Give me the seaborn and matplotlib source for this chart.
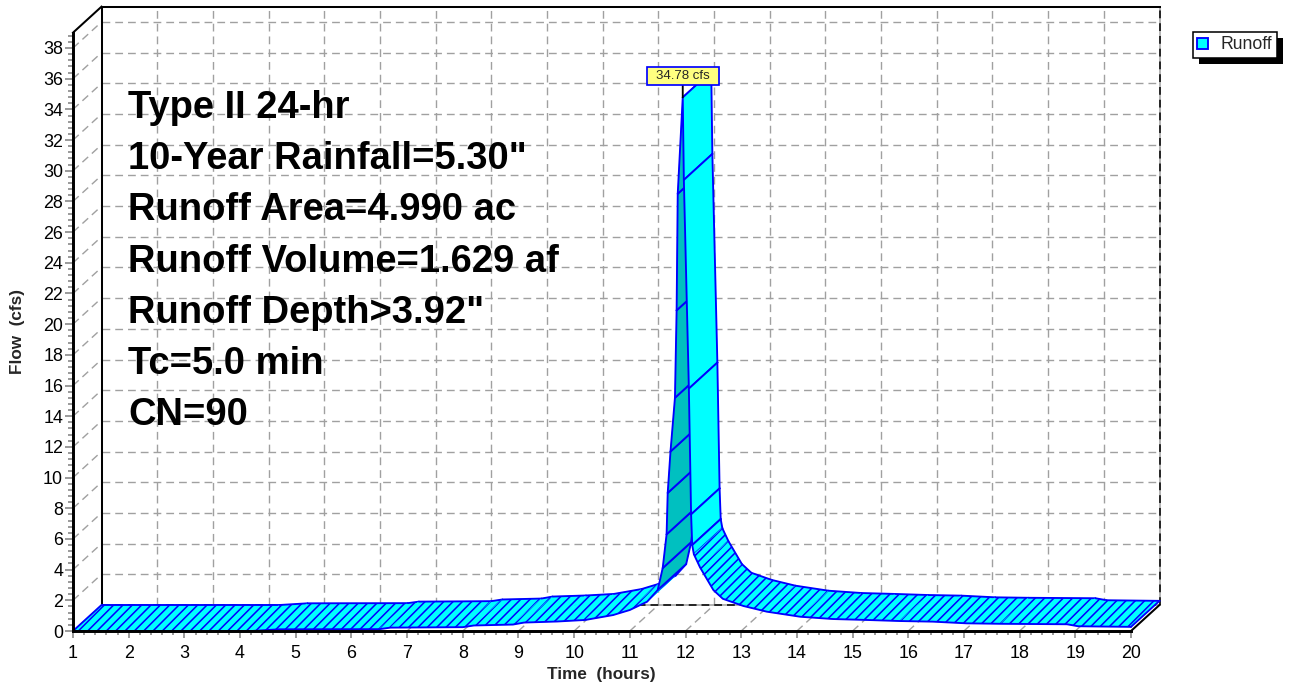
import numpy as np
import matplotlib
matplotlib.use("Agg")
import matplotlib.pyplot as plt
import seaborn as sns
from matplotlib.patches import Patch, Rectangle
from matplotlib.ticker import FixedLocator

# Runoff hydrograph ordinates
hours = [1.00, 4.20, 4.70, 6.50, 6.70, 8.00, 8.20, 8.90, 9.10, 9.70,
         10.20, 10.70, 11.00, 11.31, 11.50, 11.59, 11.66, 11.68, 11.73, 11.81,
         11.84, 11.86, 11.95, 11.97, 12.06, 12.10, 12.12, 12.15, 12.26, 12.50,
         12.67, 13.04, 13.46, 14.06, 14.65, 15.25, 15.85, 16.44, 17.05, 17.65,
         18.85, 19.05, 20.00]
flow = [0.00, 0.00, 0.11, 0.12, 0.22, 0.25, 0.36, 0.42, 0.55, 0.62,
        0.72, 1.04, 1.37, 1.91, 2.67, 4.10, 6.30, 9.00, 11.70, 15.20,
        20.90, 28.50, 34.78, 29.40, 15.80, 7.60, 5.60, 5.00, 4.15, 2.67,
        2.10, 1.63, 1.26, 0.93, 0.78, 0.72, 0.65, 0.61, 0.50, 0.47,
        0.44, 0.31, 0.27]

x_ticks = list(range(1, 21))
y_ticks = list(range(0, 39, 2))
summary_lines = [
    "Type II 24-hr",
    '10-Year Rainfall=5.30"',
    "Runoff Area=4.990 ac",
    "Runoff Volume=1.629 af",
    'Runoff Depth>3.92"',
    "Tc=5.0 min",
    "CN=90",
]
series_name = "Runoff"
x_label = "Time  (hours)"
y_label = "Flow  (cfs)"

W, H, DPI = 1294, 685, 112

sns.set_theme(style="white")
plt.rcParams["font.family"] = ["Liberation Sans", "DejaVu Sans"]
plt.rcParams["lines.scale_dashes"] = False
plt.rcParams["hatch.linewidth"] = 1.0

fig = plt.figure(figsize=(W / DPI, H / DPI), dpi=DPI, facecolor="white")
ax = fig.add_axes([0, 0, 1, 1])
ax.patch.set_visible(False)

# front plane placement (pixels from the left / top of the figure)
X_FIRST, X_LAST = 73, 1131      # hour 1 and hour 20
Y_ZERO, Y_38 = 631, 48          # 0 cfs and 38 cfs
sx = (X_LAST - X_FIRST) / 19
sy = (Y_ZERO - Y_38) / 38
T_MIN, T_MAX, Q_TOP = 1, 20, 39
DT = 28.5 / sx                  # depth of the 3-D box, in hours
DQ = 26.0 / sy                  # depth of the 3-D box, in cfs


def px_t(px):
    return T_MIN + (px - X_FIRST) / sx


def px_q(py):
    return (Y_ZERO - py) / sy


# ---- back wall, side wall and floor grid ----
GRID = "#A0A0A0"
dash = (0, (5.0, 3.2))
for qv in y_ticks[1:]:
    ax.plot([T_MIN + DT, T_MAX + DT], [qv + DQ] * 2, color=GRID, lw=0.9, ls=dash, zorder=1)
    ax.plot([T_MIN, T_MIN + DT], [qv, qv + DQ], color=GRID, lw=0.9, ls=dash, zorder=1)
for tv in x_ticks[1:-1]:
    ax.plot([tv + DT] * 2, [DQ, Q_TOP + DQ], color=GRID, lw=0.9, ls=dash, zorder=1)
    ax.plot([tv, tv + DT], [0, DQ], color=GRID, lw=0.9, ls=dash, zorder=1)
for xs, ys in (([T_MIN + DT, T_MAX + DT], [DQ, DQ]),
               ([T_MAX + DT] * 2, [DQ, Q_TOP + DQ])):
    ax.plot(xs, ys, color=GRID, lw=1.0, zorder=1)
    ax.plot(xs, ys, color="black", lw=1.0, ls=dash, zorder=1.1)

frame = dict(color="black", lw=1.3, zorder=1.2, solid_capstyle="projecting")
ax.plot([T_MIN + DT] * 2, [DQ, Q_TOP + DQ], **frame)
ax.plot([T_MIN + DT, T_MAX + DT], [Q_TOP + DQ] * 2, **frame)
ax.plot([T_MIN, T_MIN + DT], [Q_TOP, Q_TOP + DQ], **frame)
ax.plot([T_MAX, T_MAX + DT], [0, DQ], **frame)

# ---- hydrograph ribbon ----
CYAN, TEAL, BLUE = "#00FFFF", "#00C0C0", "#0000FF"
t = np.asarray(hours)
q = np.asarray(flow)
px_slope = np.diff(q) * sy / (np.diff(t) * sx)
last = len(t) - 2
for i in range(len(t) - 1):
    ts = [t[i], t[i + 1], t[i + 1] + DT, t[i] + DT]
    qs = [q[i], q[i + 1], q[i + 1] + DQ, q[i] + DQ]
    shaded = px_slope[i] > 1.5
    hatched = (not shaded) and abs(px_slope[i]) < 3
    face = TEAL if shaded else CYAN
    z = 3 + i * 0.01
    ax.fill(ts, qs, facecolor=face, edgecolor=face, lw=0.4, zorder=z)
    if hatched:
        ax.fill(ts, qs, facecolor="none", edgecolor=BLUE, lw=0, hatch="////", zorder=z + 0.003)
    ax.plot(ts[2:], qs[2:], color=BLUE, lw=1.2, zorder=z + 0.006)
    if not hatched or i == 0:
        ax.plot([t[i], t[i] + DT], [q[i], q[i] + DQ], color=BLUE, lw=1.2, zorder=z + 0.006)
    if not hatched or i == last:
        ax.plot([t[i + 1], t[i + 1] + DT], [q[i + 1], q[i + 1] + DQ],
                color=BLUE, lw=1.2, zorder=z + 0.006)

sns.lineplot(x=hours, y=flow, ax=ax, color=BLUE, lw=1.2, sort=False,
             estimator=None, legend=False, zorder=5)

# peak label
i_peak = int(np.argmax(q))
peak_hour, peak_flow = hours[i_peak], flow[i_peak]
ax.annotate(f"{peak_flow:.2f} cfs", xy=(peak_hour, peak_flow), xytext=(0, 13.8),
            textcoords="offset points", ha="center", va="center", fontsize=8.5,
            bbox=dict(boxstyle="square,pad=0.7", mutation_aspect=0.33,
                      fc="#FFFF80", ec=BLUE, lw=1.1),
            arrowprops=dict(arrowstyle="-", color="black", lw=1.2, shrinkA=0, shrinkB=0),
            zorder=8)

# storm summary
for k, line in enumerate(summary_lines):
    ax.text(px_t(128), px_q(118 + 51.2 * k), line, fontsize=24.5, fontweight="bold",
            ha="left", va="baseline", color="black", zorder=4)

# ---- front axes ----
ax.set_xlim(px_t(0), px_t(W))
ax.set_ylim(px_q(H), px_q(0))
ax.spines[["top", "right"]].set_visible(False)
for side in ("left", "bottom"):
    ax.spines[side].set_color("black")
    ax.spines[side].set_linewidth(1.9)
    ax.spines[side].set_zorder(6)
ax.spines["left"].set_position(("data", T_MIN))
ax.spines["left"].set_bounds(0, Q_TOP)
ax.spines["bottom"].set_position(("data", 0))
ax.spines["bottom"].set_bounds(T_MIN, T_MAX)

ax.set_xticks(x_ticks, [str(v) for v in x_ticks])
ax.set_yticks(y_ticks, [str(v) for v in y_ticks])
ax.xaxis.set_minor_locator(FixedLocator(np.arange(T_MIN, T_MAX + 0.001, 0.2)))
ax.yaxis.set_minor_locator(FixedLocator(np.arange(0, Q_TOP + 0.001, 0.4)))
ax.tick_params(which="both", bottom=True, left=True, direction="out",
               color="#808080", width=1.0, labelsize=11.5, labelcolor="black")
ax.tick_params(axis="y", which="major", length=5.2, pad=1.2)
ax.tick_params(axis="y", which="minor", length=3.2)
ax.tick_params(axis="x", which="major", length=4.5, pad=4.5)
ax.tick_params(axis="x", which="minor", length=2.8)

ax.set_xlabel(x_label, fontsize=11, fontweight="bold")
ax.set_ylabel(y_label, fontsize=11, fontweight="bold")
ax.xaxis.set_label_coords(601 / W, 1 - 675 / H)
ax.yaxis.set_label_coords(18 / W, 1 - 331 / H)
ax.xaxis.label.set_va("center")
ax.yaxis.label.set_va("center")

# legend with a solid drop shadow
handle = Patch(facecolor=CYAN, edgecolor=BLUE, linewidth=1.2, label=series_name)
leg = ax.legend(handles=[handle], loc="upper left", bbox_to_anchor=(1193 / W, 1 - 32 / H),
                bbox_transform=fig.transFigure, frameon=True, fancybox=False,
                edgecolor="black", fontsize=11.3, handlelength=0.58, handleheight=0.58,
                handletextpad=0.75, borderpad=0.25, borderaxespad=0)
leg.get_frame().set_linewidth(1.0)
leg.get_frame().set_alpha(1)

fig.canvas.draw()
bb = leg.get_window_extent()
fig.add_artist(Rectangle((bb.x0 + 6, bb.y0 - 6), bb.width, bb.height, transform=None,
                         facecolor="black", edgecolor="none", zorder=-1))

fig.savefig("out.png", dpi=DPI)
